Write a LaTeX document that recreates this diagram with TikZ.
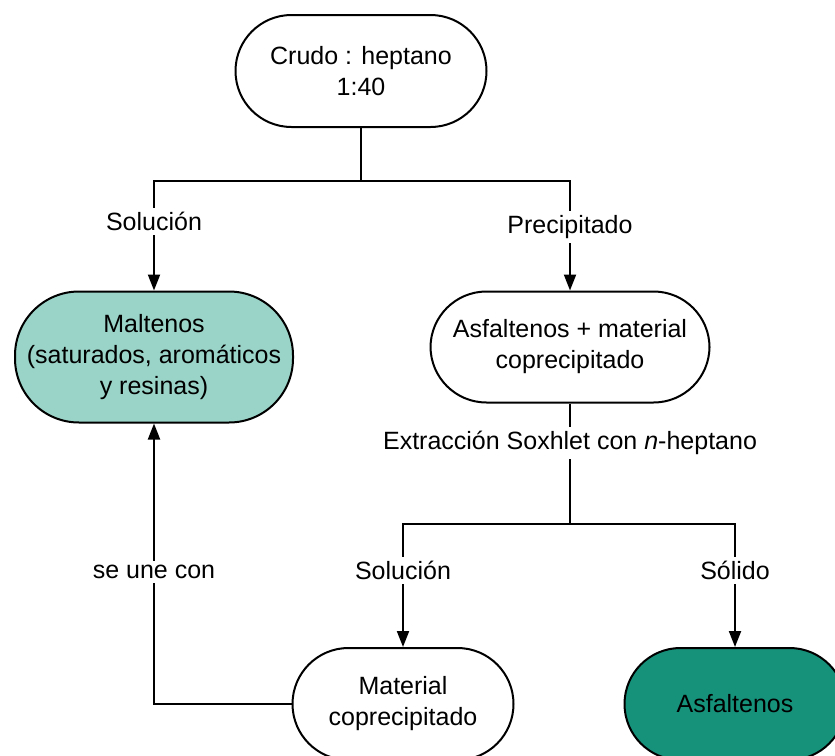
\documentclass[tikz,border=0pt]{standalone}
\usepackage{fontspec}
\setmainfont{Liberation Sans}
\usetikzlibrary{arrows.meta}
\definecolor{maltfill}{HTML}{9AD4C8}
\definecolor{asffill}{HTML}{16927B}
\tikzset{
  caja/.style={draw, line width=1pt, rounded corners=28pt, align=center, inner sep=0pt,
    minimum height=56pt, font=\fontsize{12.5}{15.5}\selectfont},
  lbl/.style={fill=white, inner sep=2pt, font=\fontsize{12.5}{15.5}\selectfont},
  linea/.style={line width=1pt},
  flecha/.style={line width=1pt, -{Triangle[width=6pt,length=8pt]}},
}
\begin{document}
\begin{tikzpicture}[x=0.5pt,y=-0.5pt]
			\useasboundingbox (0,0) rectangle (835,755);
			
			% cajas
			\node[caja, minimum width=125.5pt] (crudo) at (361,71) {Crudo : heptano\\1:40};
			\node[caja, minimum width=139pt, minimum height=65.5pt, rounded corners=32pt, fill=maltfill] (maltenos) at (154,357) {Maltenos\\(saturados, aromáticos\\y resinas)};
			\node[caja, minimum width=139.5pt, minimum height=55.5pt] (asfmat) at (570,347) {Asfaltenos + material\\coprecipitado};
			\node[caja, minimum width=110.5pt] (matcop) at (403,704) {Material\\coprecipitado};
			\node[caja, minimum width=110.5pt, fill=asffill] (asf) at (735,704) {Asfaltenos};
			
			% uniones
			\coordinate (j1) at (361,181);
			\coordinate (j2) at (570,524);
			
			\draw[linea] (crudo) -- (j1);
			\draw[flecha] (j1) -| node[lbl, pos=0.685] {Solución} (maltenos);
			\draw[flecha] (j1) -| node[lbl, pos=0.71] {Precipitado} (asfmat);
			
			\draw[linea] (asfmat) -- node[lbl, pos=0.33] {Extracción Soxhlet con \textit{n}-heptano} (j2);
			\draw[flecha] (j2) -| node[lbl, pos=0.69] {Solución} (matcop);
			\draw[flecha] (j2) -| node[lbl, pos=0.69] {Sólido} (asf);
			
			\draw[flecha] (matcop) -| node[lbl, pos=0.735] {se une con} (maltenos);
		\end{tikzpicture}
\end{document}
